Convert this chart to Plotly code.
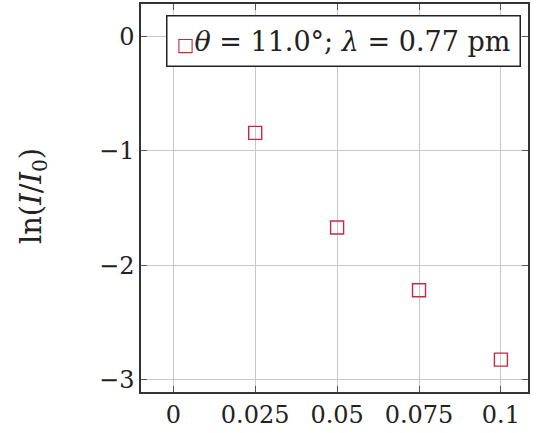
import plotly.graph_objects as go

# data
thickness = [0.025, 0.05, 0.075, 0.1]
ln_ratio = [-0.843, -1.670, -2.219, -2.825]

x_ticks = [0, 0.025, 0.05, 0.075, 0.1]
x_ticktext = ["0", "0.025", "0.05", "0.075", "0.1"]
y_ticks = [0, -1, -2, -3]
y_ticktext = ["0", "\u22121", "\u22122", "\u22123"]

FONT = "DejaVu Serif"
RED = "#c42a42"
INK = "#222222"

fig = go.Figure()
fig.add_trace(go.Scatter(
    x=thickness, y=ln_ratio, mode="markers", showlegend=False,
    marker=dict(symbol="square-open", size=13, color=RED, line=dict(width=1.4, color=RED)),
))

axis_common = dict(
    showgrid=True, gridcolor="#c8c8c8", gridwidth=1.2,
    showline=True, linecolor="#333333", linewidth=1.5, mirror="ticks",
    ticks="inside", ticklen=6, tickcolor="#555555",
    zeroline=False, automargin=False,
    tickfont=dict(family=FONT, size=24, color=INK),
)

fig.update_xaxes(range=[-0.00986, 0.10827], tickvals=x_ticks, ticktext=x_ticktext, **axis_common)
fig.update_yaxes(range=[-3.108, 0.2835], tickvals=y_ticks, ticktext=y_ticktext, **axis_common)

# y axis label
fig.add_annotation(
    text="ln(<i>I</i>/<i>I</i><sub>0</sub>)", textangle=-90,
    xref="paper", yref="paper", x=-0.279, y=0.505, xanchor="center", yanchor="middle",
    showarrow=False, font=dict(family=FONT, size=29, color=INK),
)

# legend box
fig.add_annotation(
    text="<span style='color:%s;font-size:19px'>□</span><i>θ</i> = 11.0°; <i>λ</i> = 0.77 pm" % RED,
    xref="paper", yref="paper", x=0.5245, y=0.9046, xanchor="center", yanchor="middle",
    showarrow=False, font=dict(family=FONT, size=27, color=INK),
    bgcolor="white", bordercolor=INK, borderwidth=1.5, borderpad=9,
)

fig.update_layout(
    width=540, height=433,
    margin=dict(l=141, r=12, t=4, b=41),
    plot_bgcolor="white", paper_bgcolor="white",
)

fig.write_html("out.html", config={"displayModeBar": False},
               post_script="document.body.style.margin='0';")
